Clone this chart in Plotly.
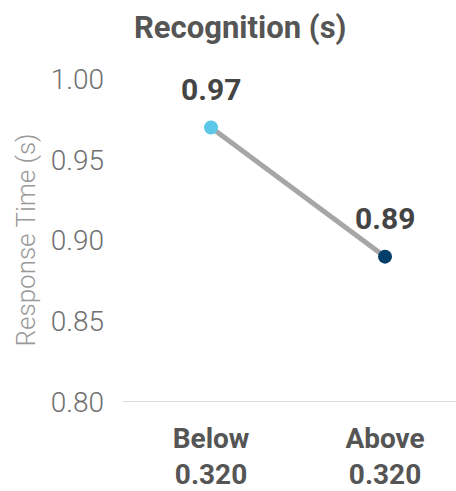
import plotly.graph_objects as go

categories = ["Below<br>0.320", "Above<br>0.320"]
values = [0.97, 0.89]
value_labels = ["0.97", "0.89"]
marker_colors = ["#5BC8E8", "#023F6B"]
y_ticks = [0.80, 0.85, 0.90, 0.95, 1.00]
y_tick_text = ["0.80", "0.85", "0.90", "0.95", "1.00"]

xs = list(range(len(categories)))

L, R, T, B = 123, 0, 79, 89
W, H = 456, 491
pw, ph = W - L - R, H - T - B

fig = go.Figure()
fig.add_trace(go.Scatter(
    x=xs, y=values, mode="lines",
    line=dict(color="#A6A6A6", width=5),
    hoverinfo="skip", showlegend=False,
))
fig.add_trace(go.Scatter(
    x=xs, y=values, mode="markers",
    marker=dict(color=marker_colors, size=14),
    cliponaxis=False, showlegend=False,
))

annotations = [dict(
    text="<b>Recognition (s)</b>",
    x=(240 - L) / pw, xref="paper", y=1 + (T - 28) / ph, yref="paper",
    xanchor="center", yanchor="middle",
    showarrow=False, font=dict(family="Roboto", size=31, color="#555555"),
), dict(
    text="Response Time (s)", textangle=-90,
    x=(25 - L) / pw, xref="paper", y=0.5, yref="paper",
    xanchor="center", yanchor="middle", showarrow=False,
    font=dict(family="Roboto", size=26, color="#999999", weight=300),
)]
for xv, yv, lab in zip(xs, values, value_labels):
    annotations.append(dict(
        text="<b>" + lab + "</b>", x=xv, y=yv, xref="x", yref="y",
        yshift=38, xanchor="center", yanchor="middle", showarrow=False,
        font=dict(family="Roboto", size=30, color="#444444"),
    ))

fig.update_layout(
    width=W, height=H,
    margin=dict(l=L, r=R, t=T, b=B, autoexpand=False),
    paper_bgcolor="white", plot_bgcolor="white",
    font=dict(family="Roboto"),
    annotations=annotations,
    xaxis=dict(
        tickvals=xs,
        ticktext=["<b>" + c.replace("<br>", "</b><br><b>") + "</b>" for c in categories],
        range=[-0.506, 1.408], showgrid=False, zeroline=False, showline=False,
        tickfont=dict(family="Roboto", size=28, color="#555555"),
        ticks="", ticklen=0, ticklabelstandoff=17, automargin=False,
    ),
    yaxis=dict(
        range=[0.80, 1.00], tickvals=y_ticks, ticktext=y_tick_text,
        showgrid=False, zeroline=False, showline=False,
        tickfont=dict(family="Roboto", size=28, color="#707070", weight=300),
        ticks="", ticklen=0, ticklabelstandoff=18, automargin=False,
    ),
)
fig.add_shape(type="line", xref="paper", yref="y", x0=0, x1=1, y0=0.80, y1=0.80,
              line=dict(color="#DDDDDD", width=2), layer="below")
fig.write_html("out.html")
